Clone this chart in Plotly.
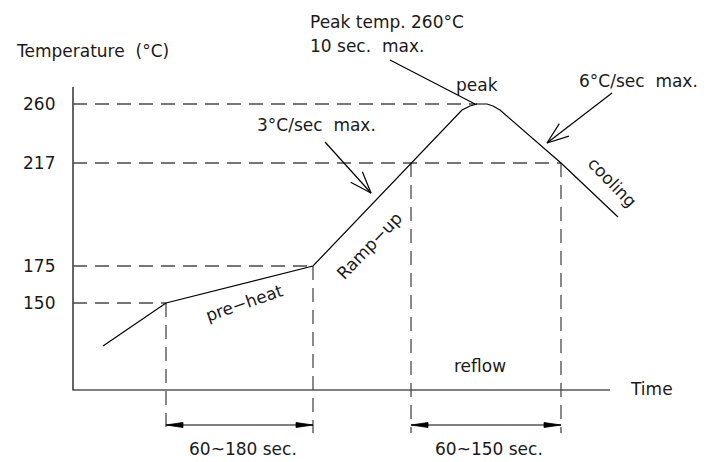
import numpy as np
import plotly.graph_objects as go

# ---- data (schematic units: time units along x, level units along y) ----
profile_time = [30, 93, 240, 338, 389, 397, 404, 414, 420, 427, 488, 545]
profile_level = [44, 87, 124, 227, 280, 284, 286, 286, 284, 280, 227, 173]

temp_labels = ["150", "175", "217", "260"]
temp_levels = [87, 124, 227, 286]
temp_line_end = [93, 240, 488, 404]      # where each dashed guide meets the curve

zone_times = [93, 240, 338, 488]          # preheat start/end, reflow start/end
zone_levels = [87, 124, 227, 227]
dim_bottom = -43
dim_level = -35
dim_pairs = [(93, 240, "60~180 sec."), (338, 488, "60~150 sec.")]

axis_time_end = 537
axis_level_top = 303

# annotation arrows: (tail_t, tail_l, tip_t, tip_l)
leader_peak = (317, 330, 402, 286)
arrow_ramp = (252, 248, 298, 197)
arrow_cool = (539, 297, 474, 247)

FONT = dict(family="DejaVu Sans", size=17, color="#1a1a1a")
LINE = dict(color="black", width=1.2)
DASH = dict(color="#4a4a4a", width=1.3, dash="14px,8px")

fig = go.Figure()

def seg(xs, ys, line):
    fig.add_trace(go.Scatter(x=xs, y=ys, mode="lines", line=line,
                             hoverinfo="skip", showlegend=False))

# axes
seg([0, 0, axis_time_end], [axis_level_top, 0, 0], LINE)

# dashed horizontal guides
for lv, te in zip(temp_levels, temp_line_end):
    seg([0, te], [lv, lv], DASH)

# dashed vertical guides
for t, lv in zip(zone_times, zone_levels):
    seg([t, t], [lv, dim_bottom], DASH)

# profile curve
seg(profile_time, profile_level, LINE)

# leader line
seg([leader_peak[0], leader_peak[2]], [leader_peak[1], leader_peak[3]], LINE)

def open_arrow(a, length=23, half_angle=20):
    t0, l0, t1, l1 = a
    seg([t0, t1], [l0, l1], LINE)
    u = np.array([t0 - t1, l0 - l1], dtype=float)
    u /= np.linalg.norm(u)
    for s in (1, -1):
        th = np.radians(s * half_angle)
        r = np.array([[np.cos(th), -np.sin(th)], [np.sin(th), np.cos(th)]])
        v = r @ u * length
        seg([t1, t1 + v[0]], [l1, l1 + v[1]], LINE)

open_arrow(arrow_ramp)
open_arrow(arrow_cool)

def filled_head(tip_t, tip_l, direction, length=17, half_w=2.5):
    bt = tip_t - direction * length
    fig.add_trace(go.Scatter(x=[tip_t, bt, bt, tip_t], y=[tip_l, tip_l + half_w, tip_l - half_w, tip_l],
                             mode="lines", fill="toself", fillcolor="black",
                             line=dict(color="black", width=0.8), hoverinfo="skip", showlegend=False))

for a, b, lab in dim_pairs:
    seg([a, b], [dim_level, dim_level], LINE)
    filled_head(a, dim_level, -1)
    filled_head(b, dim_level, 1)

# ---- text ----
ann = []
def txt(t, l, s, xanchor="center", angle=0):
    ann.append(dict(x=t, y=l, text=s, showarrow=False, xanchor=xanchor, yanchor="middle",
                    textangle=angle, font=FONT))

for lab, lv in zip(temp_labels, temp_levels):
    txt(-16, lv, lab, xanchor="right")
txt(-59, 339, "Temperature  (°C)", xanchor="left")
txt(555, 1, "Time", xanchor="left")
txt(235, 368, "Peak temp. 260°C", xanchor="left")
txt(235, 344, "10 sec.  max.", xanchor="left")
txt(404, 305, "peak")
txt(504, 309, "6°C/sec  max.", xanchor="left")
txt(182, 265, "3°C/sec  max.", xanchor="left")
txt(296, 144, "Ramp−up", angle=-46)
txt(171, 87, "pre−heat", angle=-19)
txt(539, 208, "cooling", angle=46)
txt(407, 24, "reflow")
for a, b, lab in dim_pairs:
    txt((a + b) / 2 + 3, -59, lab)

# page body has an 8px margin; size and ranges compensate so 1 unit = 1 px
fig.update_layout(
    width=698, height=454,
    margin=dict(l=0, r=0, t=0, b=0),
    paper_bgcolor="white", plot_bgcolor="white",
    xaxis=dict(range=[-65, 633], visible=False, fixedrange=True),
    yaxis=dict(range=[-72, 382], visible=False, fixedrange=True),
    annotations=ann,
    showlegend=False,
)

fig.write_html("out.html")
